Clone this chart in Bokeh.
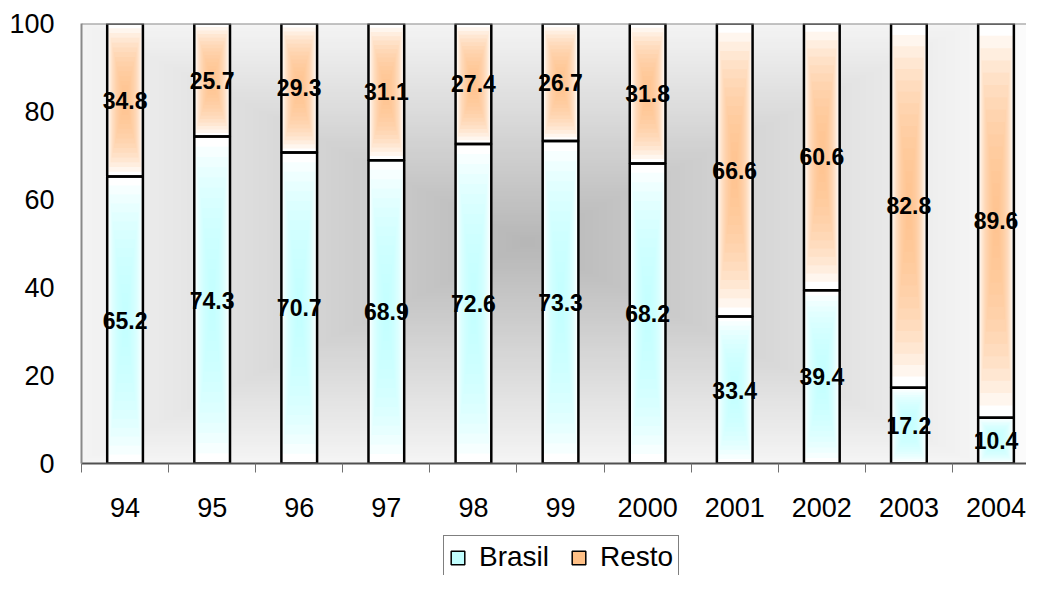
import numpy as np
from bokeh.plotting import figure
from bokeh.layouts import column
from bokeh.models import FixedTicker, Span, Legend, LegendItem, ColumnDataSource
from bokeh.core.properties import value
from bokeh.embed import file_html
from bokeh.resources import INLINE

years = ["94", "95", "96", "97", "98", "99", "2000", "2001", "2002", "2003", "2004"]
brasil = [65.2, 74.3, 70.7, 68.9, 72.6, 73.3, 68.2, 33.4, 39.4, 17.2, 10.4]
resto = [34.8, 25.7, 29.3, 31.1, 27.4, 26.7, 31.8, 66.6, 60.6, 82.8, 89.6]
y_ticks = [0, 20, 40, 60, 80, 100]
series = ["Brasil", "Resto"]

FONT = "Liberation Sans"
XMAX = 10.85
W = 0.41
N = 16
ALPHA = 0.14
C_BRASIL = "#c2ffff"
C_RESTO = "#ffc086"

xs = np.arange(len(years)) + 0.5

p = figure(width=1026, height=535, x_range=(0, XMAX), y_range=(0, 100),
           output_backend="svg", toolbar_location=None,
           min_border_left=81, min_border_right=0, min_border_top=23,
           min_border_bottom=72, background_fill_color="white",
           border_fill_color="white", outline_line_color=None)

# plot-area background: gradient from center
ny, nx = 160, 340
gy, gx = np.mgrid[0:ny, 0:nx]
cx, cy = nx * 0.47, ny * 0.50
t = np.maximum(np.abs(gx - cx) / (nx * 0.55), np.abs(gy - cy) / (ny * 0.58))
t = np.clip(t, 0, 1)
g = (255 - 72 * (1 - t)).astype(np.uint32)
img = (255 << 24) | (g << 16) | (g << 8) | g
p.image_rgba(image=[img.astype(np.uint32)], x=0, y=0, dw=XMAX, dh=100)

p.ygrid.ticker = FixedTicker(ticks=y_ticks)
p.ygrid.grid_line_color = "#404040"
p.ygrid.grid_line_width = 1
p.xgrid.visible = False

bottoms_b = [0] * len(years)
tops_b = brasil
bottoms_r = brasil
tops_r = [b + r for b, r in zip(brasil, resto)]


def gradient_bar(bottoms, tops, color):
    src = ColumnDataSource(dict(x=xs, bottom=bottoms, top=tops))
    p.vbar(x="x", width=W, bottom="bottom", top="top", source=src,
           fill_color="white", line_color=None)
    cen = [(b + tp) / 2 for b, tp in zip(bottoms, tops)]
    hh = [(tp - b) / 2 for b, tp in zip(bottoms, tops)]
    for k in range(1, N):
        s = 1 - k / N
        src_k = ColumnDataSource(dict(
            x=xs,
            bottom=[c - h * s for c, h in zip(cen, hh)],
            top=[c + h * s for c, h in zip(cen, hh)]))
        p.vbar(x="x", width=W * s, bottom="bottom", top="top", source=src_k,
               fill_color=color, fill_alpha=ALPHA, line_color=None)


gradient_bar(bottoms_b, tops_b, C_BRASIL)
gradient_bar(bottoms_r, tops_r, C_RESTO)

# outlines on top
p.vbar(x=xs, width=W, bottom=bottoms_b, top=tops_b, fill_color=None,
       line_color="black", line_width=2.5)
p.vbar(x=xs, width=W, bottom=bottoms_r, top=tops_r, fill_color=None,
       line_color="black", line_width=2.5)

# value labels
lab_x = list(xs) + list(xs)
lab_y = [v / 2 for v in brasil] + [b + r / 2 for b, r in zip(brasil, resto)]
lab_t = [f"{v:.1f}" for v in brasil] + [f"{v:.1f}" for v in resto]
p.text(x=lab_x, y=lab_y, text=lab_t, text_font=value(FONT),
       text_font_style="bold", text_font_size="23px", text_color="black",
       text_align="center", text_baseline="middle")

p.add_layout(Span(location=100, dimension="width", line_color="#8a8a8a",
                  line_width=2))

# axes
xa = p.xaxis[0]
xa.ticker = FixedTicker(ticks=list(xs), minor_ticks=list(range(len(years) + 1)))
xa.major_label_overrides = {float(x): y for x, y in zip(xs, years)}
xa.major_tick_out = 0
xa.major_tick_in = 0
xa.minor_tick_out = 9
xa.minor_tick_in = 0
xa.minor_tick_line_color = "#707070"
xa.minor_tick_line_width = 1
xa.axis_line_color = "#505050"
xa.axis_line_width = 2
xa.major_label_standoff = 25
xa.major_label_text_font = FONT
xa.major_label_text_font_size = "27px"
xa.major_label_text_color = "black"

ya = p.yaxis[0]
ya.ticker = FixedTicker(ticks=y_ticks)
ya.major_tick_out = 0
ya.major_tick_in = 0
ya.minor_tick_out = 0
ya.minor_tick_in = 0
ya.axis_line_color = "#8a8a8a"
ya.axis_line_width = 2
ya.major_label_standoff = 27
ya.major_label_text_font = FONT
ya.major_label_text_font_size = "27px"
ya.major_label_text_color = "black"

# legend in a strip below the chart
p2 = figure(width=1026, height=40, x_range=(0, 1), y_range=(0, 1),
            output_backend="svg", toolbar_location=None,
            min_border_left=0, min_border_right=0, min_border_top=0,
            min_border_bottom=0, outline_line_color=None,
            background_fill_color="white", border_fill_color="white")
p2.axis.visible = False
p2.grid.visible = False
rb = p2.vbar(x=[0.5], width=0.1, top=[1], fill_color=C_BRASIL,
             line_color="black", line_width=1.5, visible=False)
rr = p2.vbar(x=[0.5], width=0.1, top=[1], fill_color=C_RESTO,
             line_color="black", line_width=1.5, visible=False)
legend = Legend(items=[LegendItem(label=series[0], renderers=[rb]),
                       LegendItem(label=series[1], renderers=[rr])],
                orientation="horizontal", location=(362, -4),
                label_text_font=FONT, label_text_font_size="28px",
                label_text_color="black", glyph_width=17, glyph_height=17,
                label_standoff=13, spacing=21, padding=5, margin=0,
                border_line_color="black", border_line_width=1,
                background_fill_color="white", background_fill_alpha=1,
                inactive_fill_alpha=0)
p2.add_layout(legend, "center")

layout = column(p, p2, spacing=0)
open("out.html", "w").write(file_html(layout, INLINE))
